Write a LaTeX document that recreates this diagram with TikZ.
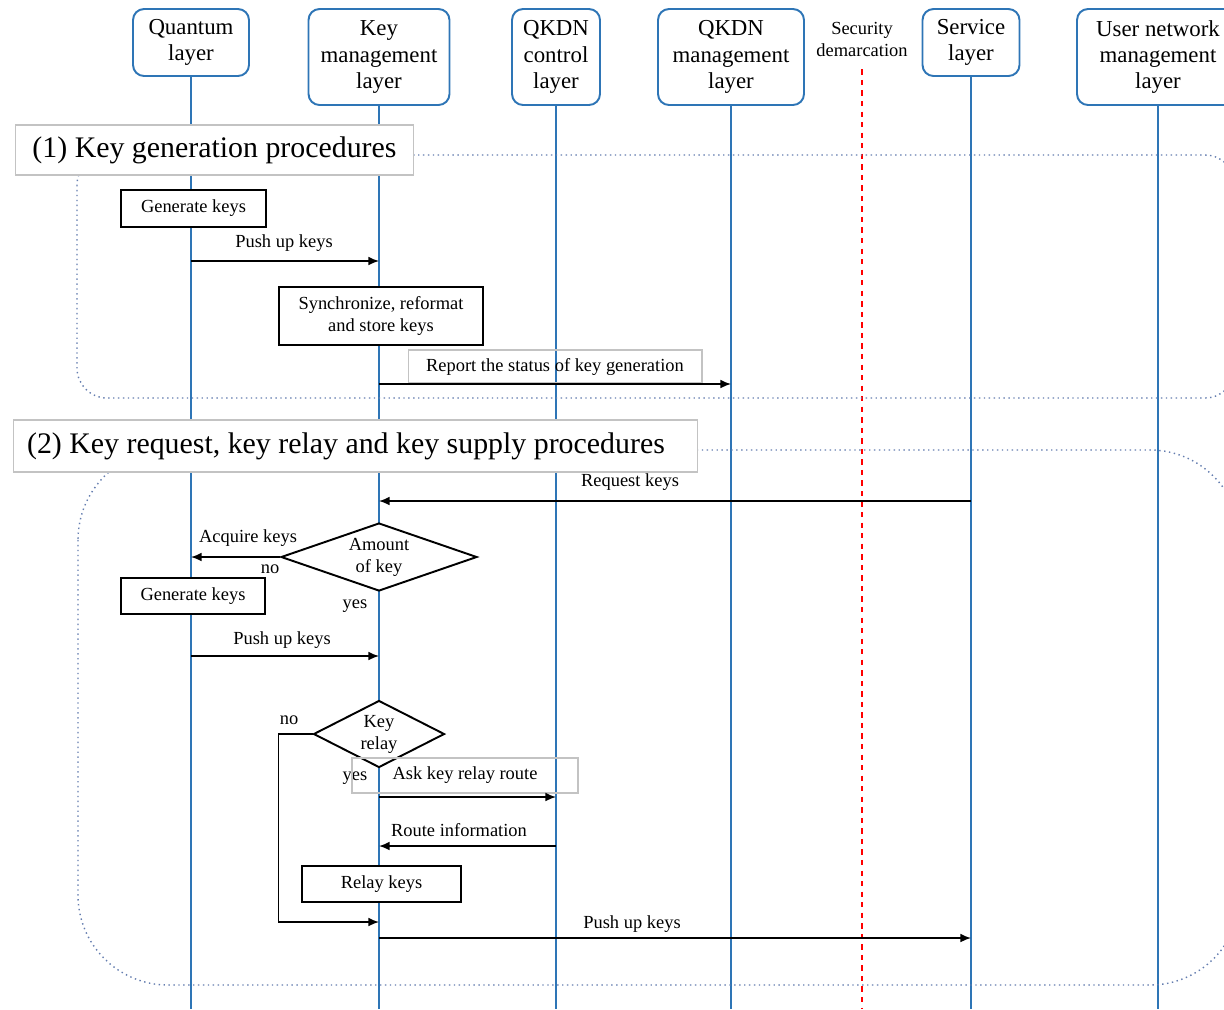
\documentclass[tikz,border=0pt]{standalone}
\usepackage{fontspec}
\setmainfont{Liberation Serif}
\usepackage{tikz}
\usetikzlibrary{shapes.geometric, arrows.meta}
\definecolor{lifeblue}{RGB}{46,117,182}
\definecolor{groupblue}{RGB}{100,125,175}
\definecolor{labelgray}{RGB}{195,195,195}
\tikzstyle{layer} = [rectangle, rounded corners=0.22cm, draw=lifeblue, line width=1.1pt, fill=white, align=center, inner sep=0pt, font=\fontsize{13}{15}\selectfont]
\tikzstyle{lifeline} = [lifeblue, line width=1pt]
\tikzstyle{secline} = [red, dashed, line width=0.9pt]
\tikzstyle{process} = [rectangle, draw=black, line width=1.1pt, fill=white, align=center, inner sep=0pt]
\tikzstyle{decision} = [diamond, draw=black, line width=1.1pt, fill=white, align=center, inner sep=0pt]
\tikzstyle{arrow} = [line width=0.9pt, -{Latex[length=6pt,width=5pt]}]
\tikzstyle{group} = [groupblue, dotted, line width=0.8pt]
\tikzstyle{grouplabel} = [rectangle, draw=labelgray, line width=0.6pt, fill=white, inner ysep=0pt, inner xsep=0.28cm, font=\fontsize{17}{20}\selectfont]
\tikzstyle{labelbox} = [rectangle, draw=labelgray, line width=0.6pt, inner sep=0pt]

\begin{document}
\begin{tikzpicture}[x=0.02cm, y=-0.02cm, font=\fontsize{10.5}{12.5}\selectfont]
    \useasboundingbox (0,0) rectangle (1224,1009);
    \clip (0,0) rectangle (1224,1009);

    % Capas
    \node (ql) [layer, minimum width=2.32cm, minimum height=1.34cm] at (191,42.5) {Quantum\\layer};
    \node (kml) [layer, minimum width=2.82cm, minimum height=1.92cm] at (379,57) {Key\\management\\layer};
    \node (qcl) [layer, minimum width=1.76cm, minimum height=1.92cm] at (556,57) {QKDN\\control\\layer};
    \node (qml) [layer, minimum width=2.92cm, minimum height=1.92cm] at (731,57) {QKDN\\management\\layer};
    \node (sd) [align=center, minimum height=1.2cm, inner sep=0pt] at (862,39) {Security\\demarcation};
    \node (sl) [layer, minimum width=1.94cm, minimum height=1.34cm] at (971,42.5) {Service\\layer};
    \node (unml) [layer, minimum width=3.24cm, minimum height=1.92cm] at (1158,57) {User network\\management\\layer};

    % Lineas de vida
    \coordinate (bot) at (0,1009);
    \foreach \l in {ql,kml,qcl,qml,sl,unml}
        \draw [lifeline] (\l) -- (\l |- bot);
    \draw [secline] (sd) -- (sd |- bot);

    % Grupos
    \draw [group, rounded corners=0.6cm] (77,155) rectangle (1235,398);
    \draw [group, rounded corners=1.8cm] (78,450) rectangle (1240,985);
    \node (g1) [grouplabel, minimum height=1cm] at (214.5,150) {\makebox[7.42cm][c]{(1) Key generation procedures}};
    \node (g2) [grouplabel, minimum height=1.04cm] at (355.5,446) {\makebox[13.14cm][l]{(2) Key request, key relay and key supply procedures}};

    % (1) Generacion de claves
    \node (gen1) [process, minimum width=2.9cm, minimum height=0.74cm] at (193.5,208.5) {Generate keys};
    \coordinate (m1) at (0,261);
    \node (push1) at (284,243) {Push up keys};
    \draw [arrow] (ql |- m1) -- (kml |- m1);
    \node (sync) [process, minimum width=4.08cm, minimum height=1.16cm] at (381,316) {Synchronize, reformat\\and store keys};
    \node (rep) [labelbox, minimum width=5.88cm, minimum height=0.66cm] at (555,366.5) {Report the status of key generation};
    \coordinate (m2) at (0,384);
    \draw [arrow] (kml |- m2) -- (qml |- m2);

    % (2) Solicitud, relevo y suministro
    \node (req) at (630,482) {Request keys};
    \coordinate (m3) at (0,501);
    \draw [arrow] (sl |- m3) -- (kml |- m3);
    \node (amt) [decision, minimum width=3.92cm, minimum height=1.36cm, aspect=2.9] at (379,557) {Amount\\of key};
    \draw [arrow] (amt.west) -- (ql |- amt.west);
    \node (acq) at (248,538) {Acquire keys};
    \node (no1) at (270,569) {no};
    \node (yes1) at (355,606) {yes};
    \node (gen2) [process, minimum width=2.88cm, minimum height=0.72cm] at (193,596) {Generate keys};
    \node (push2) at (282,640) {Push up keys};
    \coordinate (m4) at (0,656);
    \draw [arrow] (ql |- m4) -- (kml |- m4);

    \node (relay) [decision, minimum width=2.62cm, minimum height=1.34cm, aspect=2] at (379,734) {Key\\relay};
    \node (no2) at (289,720) {no};
    \node (yes2) at (355,778) {yes};
    \node (ask) [labelbox, minimum width=4.52cm, minimum height=0.7cm] at (465,775.5) {Ask key relay route};
    \coordinate (m5) at (0,797);
    \draw [arrow] (kml |- m5) -- (qcl |- m5);
    \node (route) at (459,830) {Route information};
    \coordinate (m6) at (0,846);
    \draw [arrow] (qcl |- m6) -- (kml |- m6);
    \node (rk) [process, minimum width=3.18cm, minimum height=0.72cm] at (381.5,884) {Relay keys};
    \coordinate (m7) at (0,922);
    \draw [arrow] (relay.west) -- ++(-34,0) |- (kml |- m7);
    \node (push3) at (632,924) {Push up keys};
    \coordinate (m8) at (0,938);
    \draw [arrow] (kml |- m8) -- (sl |- m8);
\end{tikzpicture}
\end{document}
